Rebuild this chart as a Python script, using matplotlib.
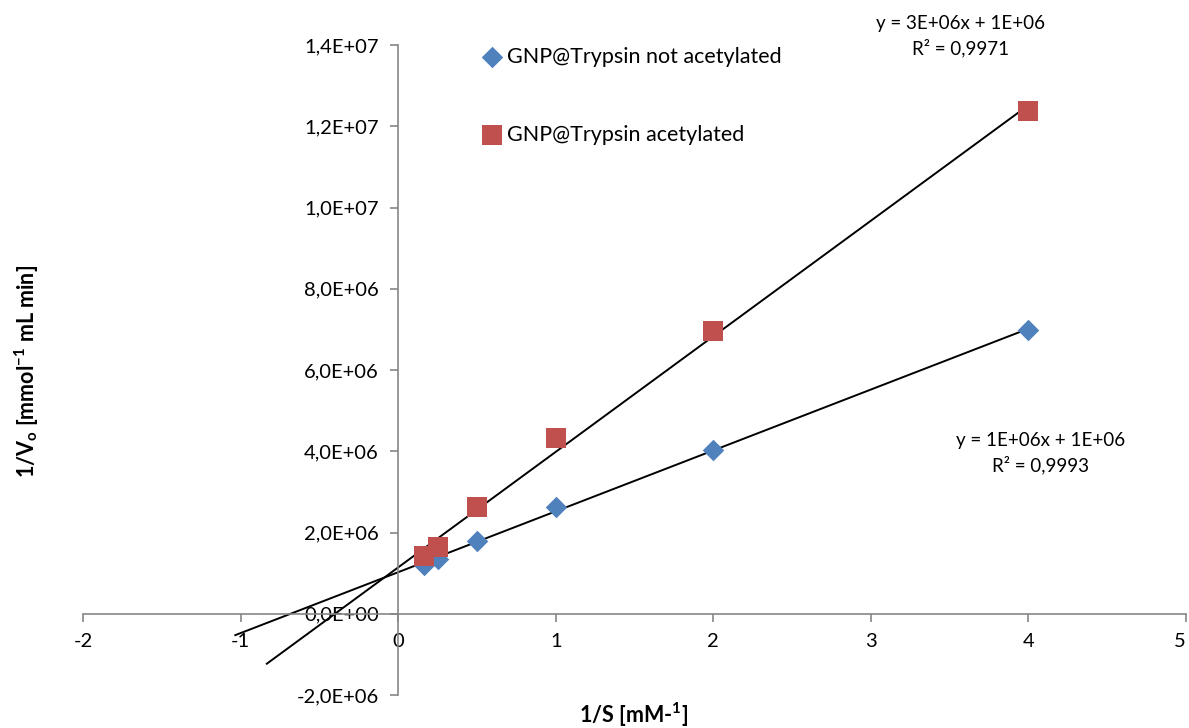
import numpy as np
import matplotlib
matplotlib.use("Agg")
import matplotlib.pyplot as plt
from matplotlib.ticker import FuncFormatter, FixedLocator

plt.rcParams['font.family'] = ['Lato', 'DejaVu Sans']
plt.rcParams['mathtext.fontset'] = 'custom'
plt.rcParams['mathtext.rm'] = 'Lato'
plt.rcParams['mathtext.bf'] = 'Lato:bold'
plt.rcParams['mathtext.default'] = 'regular'

# Lineweaver-Burk data: 1/S [mM^-1] and 1/V0
inv_s = [4, 2, 1, 0.5, 0.25, 1 / 6]
inv_v_not_acetylated = [6.99e6, 4.02e6, 2.64e6, 1.80e6, 1.36e6, 1.19e6]
inv_v_acetylated = [12.38e6, 6.96e6, 4.32e6, 2.64e6, 1.65e6, 1.41e6]

label_not_acetylated = "GNP@Trypsin not acetylated"
label_acetylated = "GNP@Trypsin acetylated"
eq_not_acetylated = "y = 1E+06x + 1E+06\nR² = 0,9993"
eq_acetylated = "y = 3E+06x + 1E+06\nR² = 0,9971"

x_ticks = [-2, -1, 0, 1, 2, 3, 4, 5]
y_ticks = [-2e6, 0, 2e6, 4e6, 6e6, 8e6, 10e6, 12e6, 14e6]

BLUE = "#4F81BD"
RED = "#C0504D"
AXIS_GREY = "#868686"

fig = plt.figure(figsize=(11.89, 7.28), dpi=100)
ax = fig.add_axes([83 / 1189, 1 - 695 / 728, (1186 - 83) / 1189, (695 - 45) / 728])

x = np.array(inv_s)

# linear trendlines, extended backwards past the y axis
for y_vals, back in ((inv_v_not_acetylated, 1.2), (inv_v_acetylated, 1.0)):
    slope, intercept = np.polyfit(x, np.array(y_vals), 1)
    xs = np.array([x.min() - back, x.max()])
    ax.plot(xs, slope * xs + intercept, color="black", lw=1.4, zorder=2)

ax.scatter(x, inv_v_not_acetylated, marker="D", s=120, color=BLUE,
           linewidths=0, label=label_not_acetylated, zorder=3)
ax.scatter(x, inv_v_acetylated, marker="s", s=210, color=RED,
           linewidths=0, label=label_acetylated, zorder=3)

ax.set_xlim(-2, 5)
ax.set_ylim(-2e6, 1.4e7)

for side in ("top", "right"):
    ax.spines[side].set_visible(False)
ax.spines["left"].set_position(("data", 0))
ax.spines["bottom"].set_position(("data", 0))
for side in ("left", "bottom"):
    ax.spines[side].set_color(AXIS_GREY)
    ax.spines[side].set_linewidth(1.2)

ax.xaxis.set_major_locator(FixedLocator(x_ticks))
ax.yaxis.set_major_locator(FixedLocator(y_ticks))
ax.xaxis.set_major_formatter(FuncFormatter(lambda v, p: f"{v:g}"))
ax.yaxis.set_major_formatter(FuncFormatter(lambda v, p: f"{v:.1E}".replace(".", ",")))
ax.tick_params(axis="both", direction="out", length=6, width=1.2,
               color=AXIS_GREY, labelsize=14.5, labelcolor="black")
ax.tick_params(axis="x", pad=8)
ax.tick_params(axis="y", pad=8)

# keep the last x tick label inside the figure edge
fig.canvas.draw()
ax.get_xticklabels()[-1].set_horizontalalignment("right")

fig.text(634 / 1189, 1 - 715 / 728, r"1/S [mM-$^{\mathbf{1}}$]",
         ha="center", va="center", fontsize=15.5, fontweight="bold")
fig.text(27 / 1189, 1 - 371 / 728, r"1/V$_{\mathbf{o}}$ [mmol$^{\mathbf{-1}}$ mL min]",
         ha="center", va="center", rotation=90, fontsize=15.5, fontweight="bold")

fig.text(961 / 1189, 1 - 36 / 728, eq_acetylated, ha="center", va="center",
         fontsize=13.5, linespacing=1.45)
fig.text(1041 / 1189, 1 - 453 / 728, eq_not_acetylated, ha="center", va="center",
         fontsize=13.5, linespacing=1.45)

ax.legend(loc="upper left", bbox_to_anchor=(481 / 1189, 1 - 47 / 728),
          bbox_transform=fig.transFigure, frameon=False, fontsize=15.5,
          labelspacing=2.7, handletextpad=0.2, handlelength=1.0,
          borderaxespad=0, borderpad=0)

fig.savefig("out.png", dpi=100, facecolor="white")
